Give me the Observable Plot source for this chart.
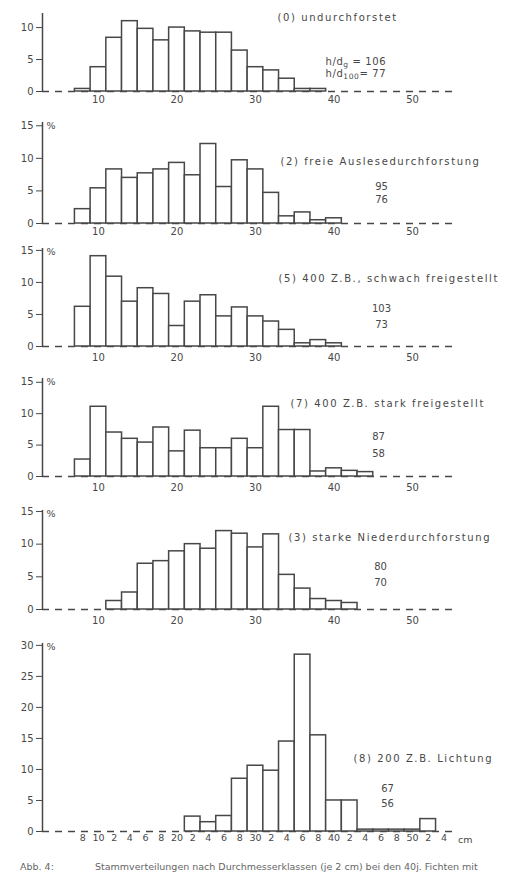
<!DOCTYPE html>
<html>
<head>
<meta charset="utf-8">
<script src="https://cdn.jsdelivr.net/npm/d3@7"></script>
<script src="https://cdn.jsdelivr.net/npm/@observablehq/plot@0.6"></script>
<style>
  body { margin: 0; background: #fff; width: 532px; overflow: hidden; }
  #wrap svg { display: block; }
  g[aria-label="text"] text.ttl { letter-spacing: 1.6px; }
  g[aria-label="text"] text.hd { letter-spacing: 0.6px; }
  #caption { position: relative; height: 34px; font-family: "DejaVu Sans", sans-serif; font-size: 9.5px; color: #666; white-space: nowrap; overflow: hidden; }
  #caption span { position: absolute; top: 8px; line-height: 14px; }
</style>
</head>
<body>
<div id="wrap"></div>
<div id="caption"><span style="left:20px">Abb. 4:</span><span style="left:95px">Stammverteilungen nach Durchmesserklassen (je 2 cm) bei den 40j. Fichten mit</span></div>
<script>
// ---- data (diameter class centres in cm, share of stems in %) ----
const classes1 = [8,10,12,14,16,18,20,22,24,26,28,30,32,34,36,38];
const values1  = [0.4,3.8,8.4,11.0,9.8,8.0,10.0,9.4,9.2,9.2,6.4,3.8,3.3,2.0,0.4,0.4];

const classes2 = [8,10,12,14,16,18,20,22,24,26,28,30,32,34,36,38,40];
const values2  = [2.2,5.4,8.3,7.0,7.7,8.3,9.3,7.4,12.2,5.6,9.7,8.3,4.7,1.1,1.7,0.5,0.8];

const classes3 = [8,10,12,14,16,18,20,22,24,26,28,30,32,34,36,38,40];
const values3  = [6.2,14.1,10.9,7.0,9.1,8.2,3.2,7.0,8.0,4.7,6.1,4.7,3.9,2.6,0.5,1.0,0.5];

const classes4 = [8,10,12,14,16,18,20,22,24,26,28,30,32,34,36,38,40,42,44];
const values4  = [2.7,11.1,7.0,6.0,5.4,7.8,4.0,7.3,4.5,4.5,6.0,4.5,11.1,7.4,7.4,0.8,1.3,0.9,0.7];

const classes5 = [12,14,16,18,20,22,24,26,28,30,32,34,36,38,40,42];
const values5  = [1.3,2.6,7.0,7.4,8.9,10.0,9.3,12.0,11.6,9.5,11.5,5.3,3.2,1.6,1.3,1.0];

const classes6 = [22,24,26,28,30,32,34,36,38,40,42,44,46,48,50,52];
const values6  = [2.4,1.5,2.5,8.5,10.6,9.8,14.5,28.5,15.5,5.0,5.0,0.3,0.3,0.3,0.3,2.0];

const titles = [
  "(0) undurchforstet",
  "(2) freie Auslesedurchforstung",
  "(5) 400 Z.B., schwach freigestellt",
  "(7) 400 Z.B. stark freigestellt",
  "(3) starke Niederdurchforstung",
  "(8) 200 Z.B. Lichtung"
];
const ratiosTop    = ["h/d_{g} = 106", "95", "103", "87", "80", "67"];
const ratiosBottom = ["h/d_{100}= 77", "76", "73", "58", "70", "56"];

const yTicksSmall = [0, 5, 10];
const yTicksPct   = [0, 5, 10, 15];
const yTicksBig   = [0, 5, 10, 15, 20, 25, 30];

const xTicksMain  = [10, 20, 30, 40, 50];
const xTicksLast  = [8,10,12,14,16,18,20,22,24,26,28,30,32,34,36,38,40,42,44,46,48,50,52,54];
const xLabelsLast = ["8","10","2","4","6","8","20","2","4","6","8","30","2","4","6","8","40","2","4","6","8","50","2","4"];
const unitLabel = "cm";

// ---- layout ----
const xDomain = [2.87, 55.3];
const ink = "#474747";

const panels = [
  {centers: classes1, values: values1, yMax: 12.2, yTicks: yTicksSmall, h: 112, mt: 13, mb: 21, pct: false, tdx: 235, tdy: 4,  ndx: 283, ndy: [48, 60], pad: 4},
  {centers: classes2, values: values2, yMax: 15.5, yTicks: yTicksPct,   h: 126, mt: 10, mb: 15, pct: true,  tdx: 238, tdy: 39, ndx: 339, ndy: [64, 77], pad: 4},
  {centers: classes3, values: values3, yMax: 15.3, yTicks: yTicksPct,   h: 126, mt: 10, mb: 18, pct: true,  tdx: 236, tdy: 30, ndx: 339, ndy: [60, 76], pad: 7},
  {centers: classes4, values: values4, yMax: 15.6, yTicks: yTicksPct,   h: 130, mt: 14, mb: 18, pct: true,  tdx: 248, tdy: 25, ndx: 336, ndy: [58, 75], pad: 7},
  {centers: classes5, values: values5, yMax: 15.15,yTicks: yTicksPct,   h: 132, mt: 16, mb: 17, pct: true,  tdx: 246, tdy: 27, ndx: 338, ndy: [56, 72], pad: 7},
  {centers: classes6, values: values6, yMax: 30.3, yTicks: yTicksBig,   h: 226, mt: 17, mb: 21, pct: true,  tdx: 311, tdy: 115,ndx: 345, ndy: [145, 160], pad: 3, last: true}
];

const wrap = document.getElementById("wrap");

panels.forEach((p, i) => {
  const data = p.centers.map((c, k) => ({c, v: p.values[k]}));
  const noteIsRatio = i === 0;
  const marks = [
    Plot.ruleY([0], {stroke: ink, strokeWidth: 1.4, strokeDasharray: "7,6"}),
    Plot.rectY(data, {x1: d => d.c - 1, x2: d => d.c + 1, y: "v", fill: "white", stroke: ink, strokeWidth: 1.5}),
    Plot.ruleX([xDomain[0]], {stroke: ink, strokeWidth: 1.5}),
    Plot.axisY({ticks: p.yTicks, tickSize: 6, tickPadding: 3, label: null, fontSize: 10}),
    p.last
      ? Plot.axisX({ticks: xTicksLast, tickSize: 0, tickPadding: p.pad, label: null, fontSize: 9.5,
                    tickFormat: d => xLabelsLast[xTicksLast.indexOf(d)]})
      : Plot.axisX({ticks: xTicksMain, tickSize: 0, tickPadding: p.pad, label: null, fontSize: 10}),
    Plot.text([titles[i]], {frameAnchor: "top-left", dx: p.tdx, dy: p.tdy, textAnchor: "start", lineAnchor: "middle", fontSize: 10, fill: ink}),
    Plot.text([ratiosTop[i]], {frameAnchor: "top-left", dx: p.ndx, dy: p.ndy[0], textAnchor: noteIsRatio ? "start" : "middle", lineAnchor: "middle", fontSize: 10, fill: ink}),
    Plot.text([ratiosBottom[i]], {frameAnchor: "top-left", dx: p.ndx, dy: p.ndy[1], textAnchor: noteIsRatio ? "start" : "middle", lineAnchor: "middle", fontSize: 10, fill: ink})
  ];
  if (p.pct) marks.push(Plot.text(["%"], {frameAnchor: "top-left", dx: 4, dy: 3, textAnchor: "start", lineAnchor: "middle", fontSize: 9.5, fill: ink}));
  if (p.last) marks.push(Plot.text([unitLabel], {frameAnchor: "bottom-right", dx: 4, dy: 8, textAnchor: "start", lineAnchor: "middle", fontSize: 9.5, fill: ink}));

  const svg = Plot.plot({
    width: 532,
    height: p.h,
    marginLeft: 42,
    marginRight: 78.4,
    marginTop: p.mt,
    marginBottom: p.mb,
    style: {fontFamily: "DejaVu Sans, sans-serif", fontSize: "10px", color: ink, background: "white", overflow: "visible"},
    x: {domain: xDomain},
    y: {domain: [0, p.yMax], label: null},
    marks
  });

  // title letter spacing + subscripts for h/d labels
  svg.querySelectorAll('g[aria-label="text"] text').forEach(t => {
    const s = t.textContent;
    if (titles.includes(s)) t.classList.add("ttl");
    const m = s.match(/^(.*)_\{(.*)\}(.*)$/);
    if (m) {
      t.classList.add("hd");
      while (t.firstChild) t.removeChild(t.firstChild);
      const ns = "http://www.w3.org/2000/svg";
      const a = document.createElementNS(ns, "tspan"); a.textContent = m[1];
      const b = document.createElementNS(ns, "tspan"); b.textContent = m[2]; b.setAttribute("dy", "2.5"); b.setAttribute("font-size", "7.5");
      const c = document.createElementNS(ns, "tspan"); c.textContent = m[3]; c.setAttribute("dy", "-2.5");
      t.append(a, b, c);
    }
  });
  wrap.appendChild(svg);
});
</script>
</body>
</html>
